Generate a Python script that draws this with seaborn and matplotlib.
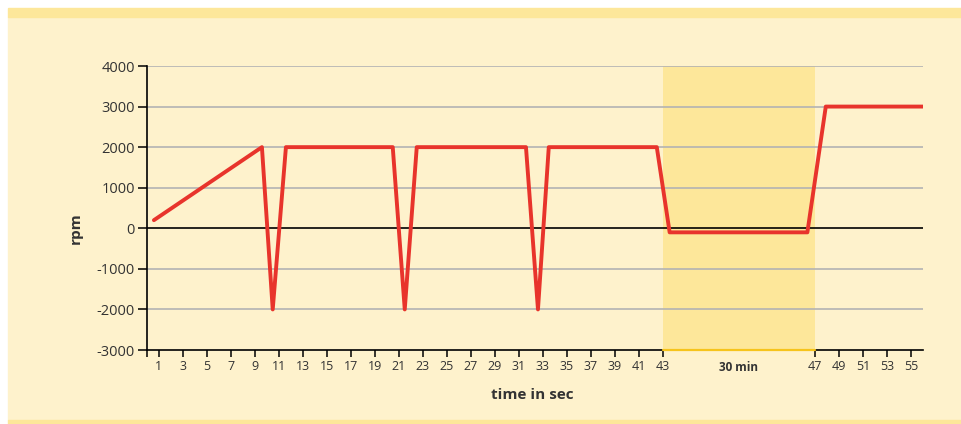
import matplotlib
matplotlib.use("Agg")
import matplotlib.pyplot as plt
from matplotlib.patches import Rectangle
import seaborn as sns
import pandas as pd
import numpy as np

# time (s) and speed (rpm); the 43-47 span is the "30 min" break
time_s = [0.6, 9.6, 10.5, 11.6, 20.5, 21.5, 22.5, 31.6, 32.6, 33.5, 42.5,
          43.18, 46.8, 47.9, 56.0]
rpm = [200, 2000, -2000, 2000, 2000, -2000, 2000, 2000, -2000, 2000, 2000,
       -100, -100, 3000, 3000]
tick_secs = list(range(1, 44, 2)) + list(range(47, 56, 2))
y_ticks = list(range(-3000, 4001, 1000))

BREAK_START, BREAK_END, STRETCH = 43, 47, 3.17

CREAM = "#FEF2CC"
BAND = "#FDE79A"
RED = "#E8342C"
TEXT = "#333333"


def fwd(t):
    t = np.asarray(t, dtype=float)
    return np.where(t <= BREAK_START, t,
                    np.where(t <= BREAK_END, BREAK_START + (t - BREAK_START) * STRETCH,
                             t + (BREAK_END - BREAK_START) * (STRETCH - 1)))


def inv(p):
    p = np.asarray(p, dtype=float)
    edge = BREAK_START + (BREAK_END - BREAK_START) * STRETCH
    return np.where(p <= BREAK_START, p,
                    np.where(p <= edge, BREAK_START + (p - BREAK_START) / STRETCH,
                             p - (BREAK_END - BREAK_START) * (STRETCH - 1)))


df = pd.DataFrame({"time": time_s, "rpm": rpm})

sns.set_theme(style="white")
plt.rcParams["font.family"] = ["Open Sans", "DejaVu Sans"]

fig = plt.figure(figsize=(9.62, 4.24), dpi=100)
fig.patch.set_facecolor("white")
W, H = 962, 424
# cream panel with yellow bands top and bottom
fig.patches.append(Rectangle((8 / W, 4 / H), 1 - 8 / W, (407 - 4) / H,
                             transform=fig.transFigure, color=CREAM, zorder=-10))
fig.patches.append(Rectangle((8 / W, (424 - 17) / H), 1 - 8 / W, 9 / H,
                             transform=fig.transFigure, color=BAND, zorder=-10))
fig.patches.append(Rectangle((8 / W, 0), 1 - 8 / W, 4 / H,
                             transform=fig.transFigure, color=BAND, zorder=-10))

ax = fig.add_axes([146.7 / W, (424 - 350) / H, (923 - 146.7) / W, (350 - 66) / H])
ax.set_facecolor("none")
ax.set_xscale("function", functions=(fwd, inv))
ax.set_xlim(0, 56)
ax.set_ylim(-3000, 4000)

# shaded break region
ax.axvspan(BREAK_START, BREAK_END, color=BAND, zorder=0, lw=0)

for y in y_ticks[1:]:
    ax.axhline(y, color="black" if y == 0 else "#b3b3b3",
               lw=1.2 if y == 0 else 1.2, zorder=1)

sns.lineplot(data=df, x="time", y="rpm", ax=ax, color=RED, lw=2.8,
             estimator=None, sort=False, zorder=3)

for side in ["top", "right"]:
    ax.spines[side].set_visible(False)
for side in ["left", "bottom"]:
    ax.spines[side].set_color("black")
    ax.spines[side].set_linewidth(1.2)
ax.plot([BREAK_START, BREAK_END], [-3000, -3000], color="#F6C41C", lw=1.6,
        clip_on=False, zorder=4)

ax.set_xticks([0] + tick_secs)
ax.set_xticklabels([""] + [str(t) for t in tick_secs])
ax.set_yticks(y_ticks)
ax.set_yticklabels([str(y) for y in y_ticks])
ax.tick_params(axis="x", direction="out", length=5, width=1.1, color="black",
               labelsize=9, labelcolor=TEXT, pad=2, bottom=True)
ax.tick_params(axis="y", direction="out", length=6.5, width=1.1, color="black",
               labelsize=10.5, labelcolor=TEXT, pad=2, left=True)

ax.set_xlabel("")
ax.set_ylabel("")
ax.annotate("30 min", xy=(45, -3000), xytext=(0, -12.5), textcoords="offset points",
            ha="center", va="center", fontsize=8.5, fontweight="bold", color=TEXT)
fig.text(532 / W, 1 - 395 / H, "time in sec", ha="center", va="center",
         fontsize=11, fontweight="bold", color=TEXT)
fig.text(76 / W, 1 - 228 / H, "rpm", ha="center", va="center", rotation=90,
         fontsize=11, fontweight="bold", color=TEXT)

fig.savefig("out.png", dpi=100, facecolor=fig.get_facecolor())
